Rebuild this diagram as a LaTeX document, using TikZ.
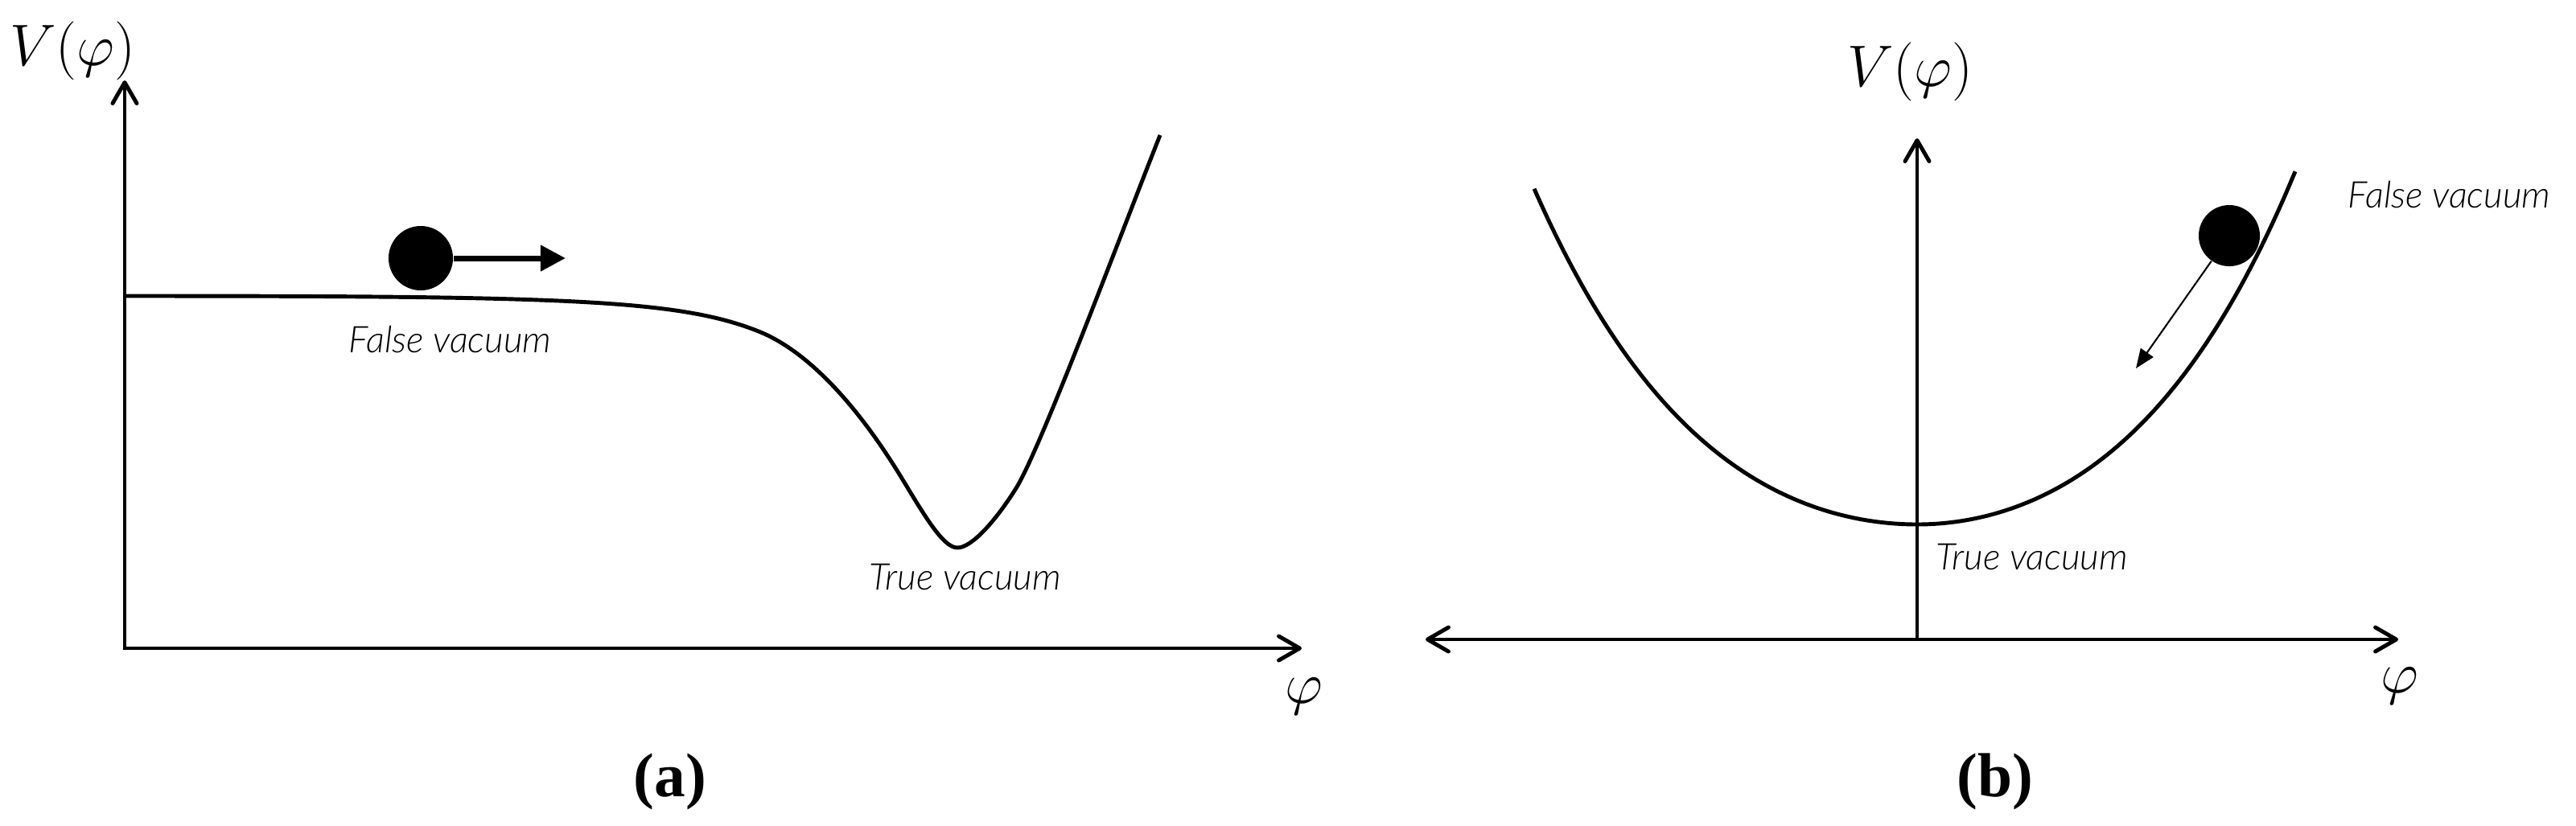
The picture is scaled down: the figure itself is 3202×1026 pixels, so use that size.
\documentclass[tikz,border=0pt]{standalone}
\usepackage{fontspec}
\newfontfamily\lblfont{Lato}[UprightFont=* Light, ItalicFont=* Light Italic]
\newfontfamily\capfont{Liberation Serif}
\usetikzlibrary{arrows.meta}
\begin{document}
\begin{tikzpicture}[x=0.01cm,y=-0.01cm,
  axis/.style={line width=1.4pt, line join=miter},
  barb/.tip={Straight Barb[length=2.6mm,width=3mm,line cap=round,line join=round]},
  curve/.style={line width=1.4pt, line join=round},
  ball/.style={circle, fill=black, inner sep=0pt},
  vaclbl/.style={anchor=base west, inner sep=0pt, font=\lblfont\itshape\fontsize{13}{15}\selectfont},
  mathlbl/.style={inner sep=0pt, font=\fontsize{20.74}{24}\selectfont},
  caplbl/.style={inner sep=0pt, font=\capfont\bfseries\fontsize{22}{26}\selectfont}
]
\useasboundingbox (0,0) rectangle (3202,1026);

% ---------- panel (a) ----------
\coordinate (aO) at (155,806);
\coordinate (aY) at (155,100);
\coordinate (aX) at (1618,806);
\draw[axis, barb-barb] (aY) -- (aO) -- (aX);
\node[mathlbl] (aV) at (90,63) {$V(\varphi)$};
\node[mathlbl] (aphi) at (1621,866) {$\varphi$};

\draw[curve] (155,368) .. controls (700,368) and (843,372) .. (943,412)
  .. controls (1008,438) and (1070,511) .. (1120,593)
  .. controls (1148,639) and (1172,681) .. (1190,681)
  .. controls (1208,681) and (1238,647) .. (1263,607)
  .. controls (1293,559) and (1392,294) .. (1442,168);

\node[ball, minimum size=8mm] (aball) at (523,321) {};
\coordinate (aarr) at (703,321);
\draw[line width=2pt, -{Triangle[length=3.1mm,width=3.1mm]}] (aball.east) -- (aarr);

\node[vaclbl] (afalse) at (433,438) {False vacuum};
\node[vaclbl] (atrue) at (1080,733) {True vacuum};
\node[caplbl] (acap) at (833,972) {(a)};

% ---------- panel (b) ----------
\coordinate (bL) at (1772,795);
\coordinate (bR) at (2981,795);
\coordinate (bO) at (2383,795);
\coordinate (bY) at (2383,172);
\draw[axis, barb-barb] (bL) -- (bR);
\draw[axis, -barb] (bO) -- (bY);
\node[mathlbl] (bV) at (2374,89) {$V(\varphi)$};
\node[mathlbl] (bphi) at (2983,853) {$\varphi$};

\draw[curve] plot[domain=-4.76:0, samples=60, smooth]
    ({2383+100*\x}, {652-0.92*(14.05*\x*\x+0.2635*\x*\x*\x*\x)})
  -- plot[domain=0:4.70, samples=60, smooth]
    ({2383+100*\x}, {652-(14.05*\x*\x+0.2635*\x*\x*\x*\x)});

\node[ball, minimum size=7.6mm] (bball) at (2771,293) {};
\coordinate (btip) at (2655,458);
\draw[line width=0.6pt, -{Triangle[length=2.4mm,width=1.9mm]}] (bball) -- (btip);

\node[vaclbl] (bfalse) at (2918,258) {False vacuum};
\node[vaclbl] (btrue) at (2406,708) {True vacuum};
\node[caplbl] (bcap) at (2480,972) {(b)};
\end{tikzpicture}
\end{document}
